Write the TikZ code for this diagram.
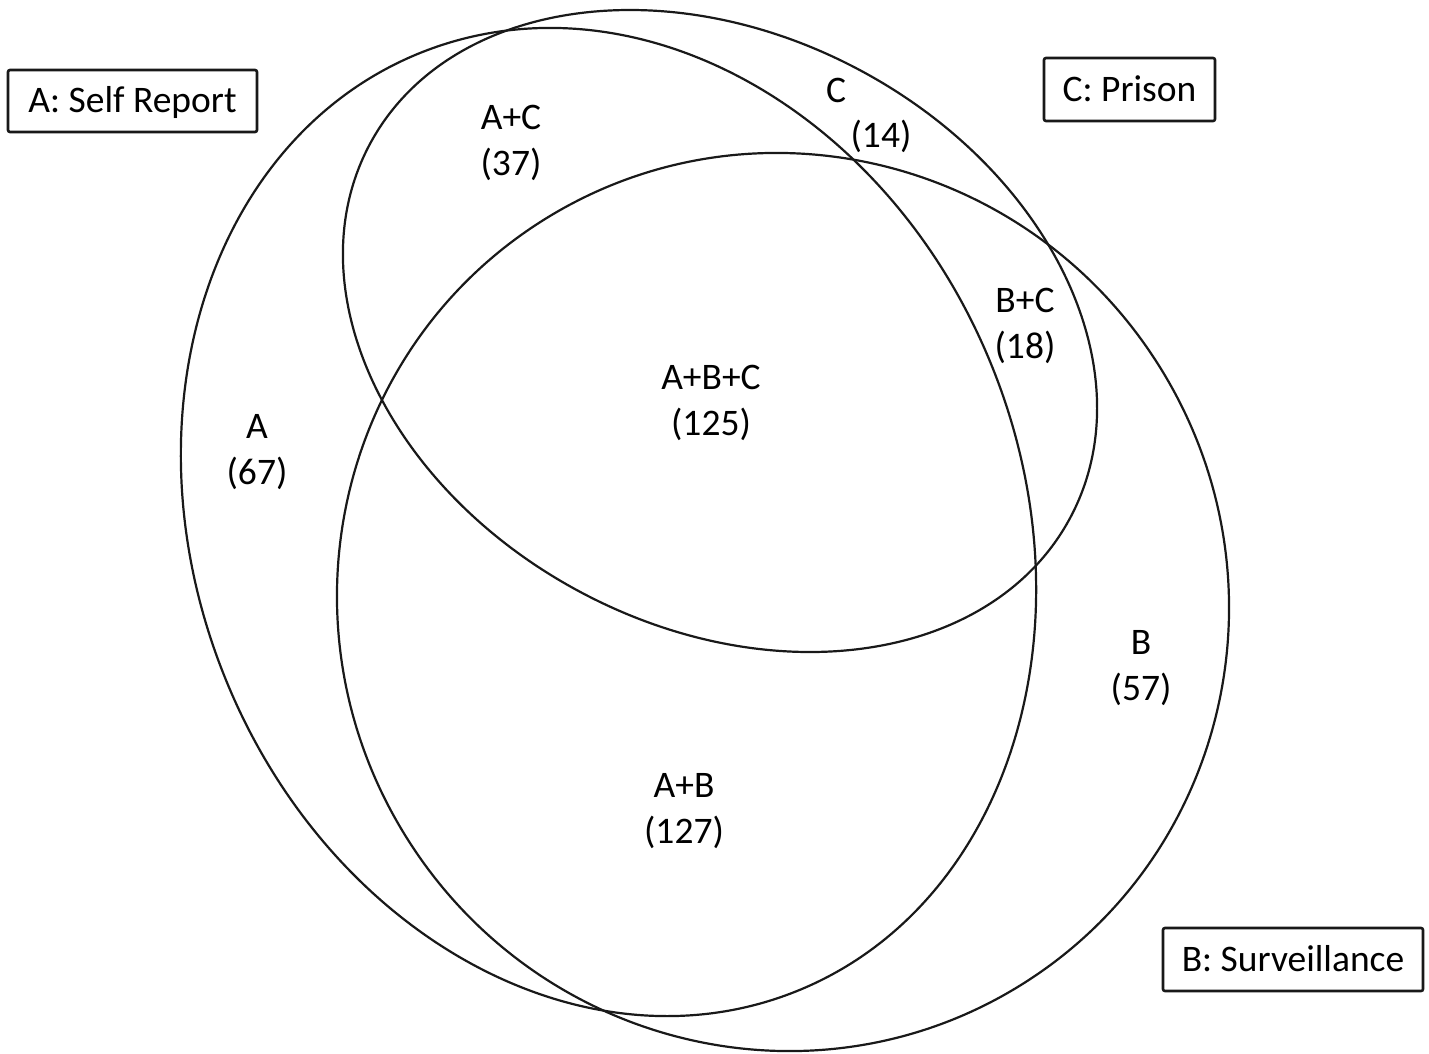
\documentclass[tikz,border=0pt]{standalone}
\usepackage{fontspec}
\setmainfont{Carlito}
\begin{document}
\begin{tikzpicture}[x=1pt,y=1pt,
  venn/.style={line width=2.2pt, draw=black!90},
  lbl/.style={font=\fontsize{37.5}{45.5}\selectfont, align=center, anchor=base, inner sep=0pt},
  keybox/.style={draw=black!90, line width=2.6pt, rounded corners=2pt,
    font=\fontsize{37.5}{45}\selectfont, text height=23.6pt, text depth=0pt, inner sep=0pt}]
\useasboundingbox[fill=white] (0,0) rectangle (1429,-1053);
% sets
\draw[venn, rotate around={-68.3:(608.5,-522)}] (608.5,-522) ellipse [x radius=505.5pt, y radius=413.9pt];
\draw[venn, rotate around={-58.2:(783,-602)}] (783,-602) ellipse [x radius=450.9pt, y radius=444.1pt];
\draw[venn, rotate around={-28.0:(720,-331)}] (720,-331) ellipse [x radius=396.9pt, y radius=296.0pt];
% keys
\node[keybox, minimum width=249pt, minimum height=62pt] (keyA) at (132.5,-101) {A: Self Report};
\node[keybox, minimum width=171pt, minimum height=63pt] (keyC) at (1129.5,-89.5) {C: Prison};
\node[keybox, minimum width=260pt, minimum height=63pt] (keyB) at (1293,-959.5) {B: Surveillance};
% region labels (anchor = baseline of the last line)
\node[lbl] (rA) at (257,-484) {A\\(67)};
\node[lbl] (rAC) at (511,-175) {A+C\\(37)};
\node[lbl] (rC) at (836,-102) {C};
\node[lbl] (rCn) at (881,-147) {(14)};
\node[lbl] (rABC) at (711,-435) {A+B+C\\(125)};
\node[lbl] (rBC) at (1025,-358) {B+C\\(18)};
\node[lbl] (rB) at (1141,-700) {B\\(57)};
\node[lbl] (rAB) at (684,-843) {A+B\\(127)};
\end{tikzpicture}
\end{document}
